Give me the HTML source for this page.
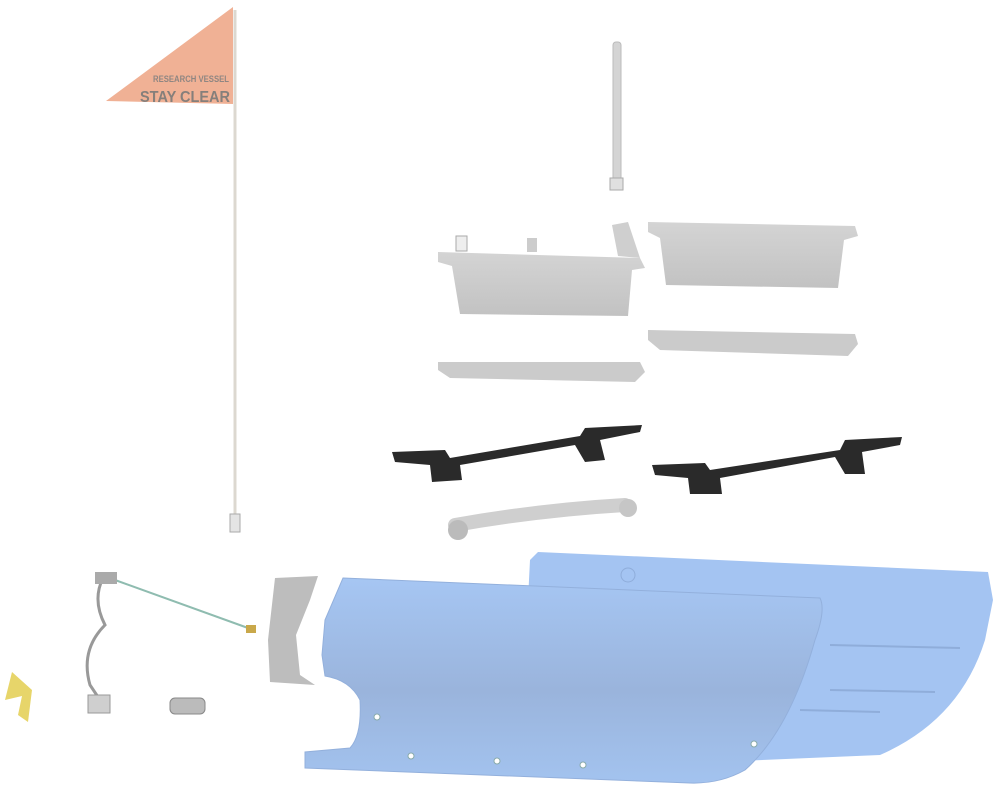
<!DOCTYPE html>
<html><head><meta charset="utf-8"><style>
html,body{margin:0;padding:0;background:#fff;width:1000px;height:800px;overflow:hidden}
svg{display:block}
</style></head><body>
<svg width="1000" height="800" viewBox="0 0 1000 800" xmlns="http://www.w3.org/2000/svg">
<defs>
<linearGradient id="hb" x1="0" y1="0" x2="0" y2="1">
<stop offset="0" stop-color="#a6c6f3"/><stop offset="0.55" stop-color="#9ab4dc"/><stop offset="1" stop-color="#a3c3ef"/>
</linearGradient>
<linearGradient id="gr" x1="0" y1="0" x2="0" y2="1">
<stop offset="0" stop-color="#d4d4d4"/><stop offset="1" stop-color="#c2c2c2"/>
</linearGradient>
</defs>

<!-- flag -->
<line x1="235" y1="10" x2="235" y2="520" stroke="#dcd8d0" stroke-width="3"/>
<polygon points="106,101 233,7 233,104" fill="#f0b195"/>
<text x="229" y="82" text-anchor="end" font-family="Liberation Sans, sans-serif" font-size="9" font-weight="bold" fill="#8f8682" textLength="76" lengthAdjust="spacingAndGlyphs">RESEARCH VESSEL</text>
<text x="230" y="102" text-anchor="end" font-family="Liberation Sans, sans-serif" font-size="16" font-weight="bold" fill="#857f7b" textLength="90" lengthAdjust="spacingAndGlyphs">STAY CLEAR</text>
<rect x="230" y="514" width="10" height="18" fill="#e4e4e4" stroke="#aaa"/>

<!-- antenna -->
<rect x="613" y="42" width="8" height="140" rx="3" fill="#d4d4d4" stroke="#bbb"/>
<rect x="610" y="178" width="13" height="12" fill="#e0e0e0" stroke="#aaa"/>

<!-- boxes -->
<path d="M438,252 L640,258 L645,268 L632,270 L628,316 L460,314 L452,266 L438,262 Z" fill="url(#gr)"/>
<rect x="456" y="236" width="11" height="15" fill="#eee" stroke="#aaa"/>
<rect x="527" y="238" width="10" height="14" fill="#ccc"/>
<path d="M612,225 L628,222 L640,258 L618,256 Z" fill="#cfcfcf"/>
<path d="M648,222 L855,226 L858,236 L844,240 L838,288 L666,285 L660,238 L648,232 Z" fill="url(#gr)"/>

<!-- rails -->
<path d="M438,362 L640,362 L645,372 L635,382 L450,378 L438,370 Z" fill="#cbcbcb"/>
<path d="M648,330 L855,334 L858,344 L848,356 L660,350 L648,340 Z" fill="#cbcbcb"/>

<!-- black brackets -->
<path d="M392,452 L445,450 L450,458 L580,436 L585,428 L642,425 L640,432 L600,440 L605,460 L585,462 L575,445 L460,465 L462,480 L432,482 L430,465 L395,462 Z" fill="#2a2a2a"/>
<path d="M652,465 L705,463 L710,470 L840,450 L845,440 L902,437 L900,445 L862,452 L865,474 L845,474 L835,457 L720,478 L722,494 L690,494 L688,478 L655,475 Z" fill="#2a2a2a"/>

<!-- tube -->
<path d="M455,525 Q540,510 625,505" stroke="#cfcfcf" stroke-width="14" fill="none" stroke-linecap="round"/>
<circle cx="458" cy="530" r="10" fill="#bbb"/><circle cx="628" cy="508" r="9" fill="#c6c6c6"/>

<!-- back hull -->
<path d="M538,552 L988,572 L993,600 L985,640 Q960,720 880,755 L715,762 L700,640 L528,600 L530,560 Z" fill="#a4c4f2"/>
<path d="M830,645 L960,648 M800,710 L880,712 M830,690 L935,692" stroke="#8fadda" stroke-width="2"/>
<circle cx="628" cy="575" r="7" fill="none" stroke="#8fadda"/>

<!-- front hull -->
<path d="M343,578 L820,598 Q826,610 815,640 Q790,730 745,770 Q720,784 690,783 L305,768 L305,752 L350,748 Q362,735 360,700 Q350,680 325,676 L322,655 L325,620 Z" fill="url(#hb)" stroke="#93b0dc" stroke-width="1"/>
<g fill="#fff" stroke="#8aa"><circle cx="377" cy="717" r="3"/><circle cx="411" cy="756" r="3"/><circle cx="497" cy="761" r="3"/><circle cx="583" cy="765" r="3"/><circle cx="754" cy="744" r="3"/></g>

<!-- rudder -->
<path d="M275,578 L318,576 L310,600 L296,635 L300,675 L315,685 L270,682 L268,640 Z" fill="#bdbdbd"/>

<!-- cable -->
<path d="M103,578 Q92,600 105,625 Q80,650 90,685 L100,700" stroke="#999" stroke-width="3" fill="none"/>
<line x1="115" y1="580" x2="248" y2="628" stroke="#8fbcb0" stroke-width="2"/>
<rect x="246" y="625" width="10" height="8" fill="#c9a84a"/>
<rect x="95" y="572" width="22" height="12" fill="#aaa"/>
<rect x="88" y="695" width="22" height="18" fill="#cfcfcf" stroke="#999"/>
<rect x="170" y="698" width="35" height="16" rx="5" fill="#bbb" stroke="#888"/>
<!-- propeller -->
<path d="M12,672 L32,690 L28,722 L18,715 L22,696 L5,700 Z" fill="#e7d56a"/>
</svg>
</body></html>
